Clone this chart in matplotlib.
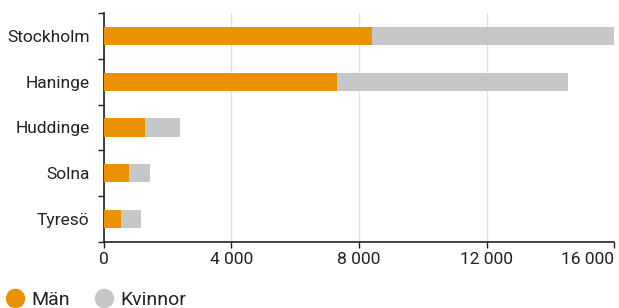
import matplotlib
matplotlib.use("Agg")
import matplotlib.pyplot as plt
from matplotlib.lines import Line2D
from matplotlib.ticker import FuncFormatter, MultipleLocator

# data lest ur bilden
kommuner = ["Stockholm", "Haninge", "Huddinge", "Solna", "Tyresö"]
man = [8400, 7320, 1300, 800, 560]
kvinnor = [7600, 7230, 1110, 650, 605]
xticks = [0, 4000, 8000, 12000, 16000]

orange = "#EB9200"
gra = "#C6C7C9"

plt.rcParams["font.family"] = ["Roboto", "DejaVu Sans"]

fig = plt.figure(figsize=(6.19, 3.08), dpi=100)
ax = fig.add_axes([103.5 / 619, 66 / 308, 510.8 / 619, 229 / 308])

y = list(range(len(kommuner)))
ax.barh(y, man, height=0.4, color=orange, zorder=3)
ax.barh(y, kvinnor, left=man, height=0.4, color=gra, zorder=3)

ax.set_xlim(0, 16000)
ax.set_ylim(4.5, -0.5)
ax.set_yticks(y)
ax.set_yticklabels(kommuner, color="#222222", fontsize=12.5)
ax.yaxis.set_minor_locator(MultipleLocator(1, offset=0.5))
ax.tick_params(axis="y", which="major", length=0, pad=10)
ax.tick_params(axis="y", which="minor", length=4, width=1, color="#222222")

ax.set_xticks(xticks)
ax.xaxis.set_major_formatter(FuncFormatter(lambda v, p: f"{int(v):,}".replace(",", " ")))
ax.tick_params(axis="x", length=4, width=1, color="#222222", labelcolor="#222222",
               labelsize=12.5, pad=3)
# sista etiketten far inte plats centrerad
ax.get_xticklabels()[-1].set_horizontalalignment("right")

ax.grid(axis="x", color="#E1E1E1", linewidth=1, zorder=0)
for s in ["top", "right"]:
    ax.spines[s].set_visible(False)
for s in ["left", "bottom"]:
    ax.spines[s].set_color("#222222")
    ax.spines[s].set_linewidth(1.2)

handles = [
    Line2D([], [], marker="o", linestyle="", markersize=13, color=orange, label="Män"),
    Line2D([], [], marker="o", linestyle="", markersize=13, color=gra, label="Kvinnor"),
]
fig.legend(handles=handles, loc="center left", bbox_to_anchor=(8 / 619, 8 / 308),
           ncol=2, frameon=False, fontsize=14, borderaxespad=0, borderpad=0,
           handlelength=0.75, handletextpad=0.45, columnspacing=1.4,
           labelcolor="#222222")

fig.savefig("out.png", dpi=100)
